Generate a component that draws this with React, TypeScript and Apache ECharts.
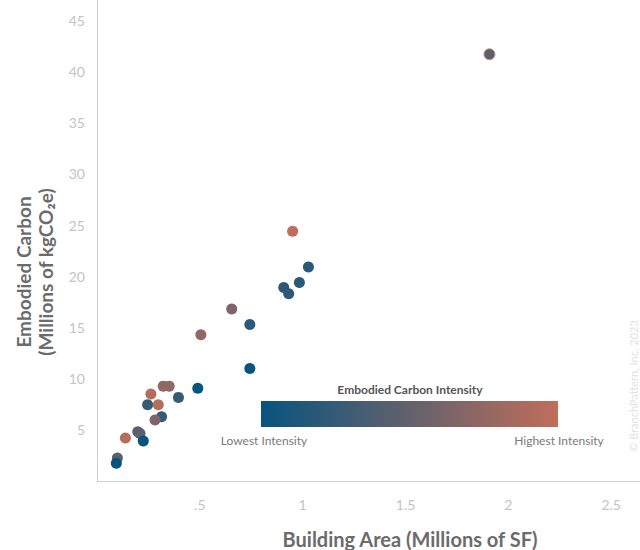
import React, { useEffect, useRef } from "react";
import * as echarts from "echarts";

const areas = [1.908, 0.951, 1.028, 0.984, 0.908, 0.932, 0.655, 0.743, 0.505, 0.743, 0.49, 0.322, 0.351, 0.262, 0.396, 0.246, 0.298, 0.314, 0.282, 0.198, 0.209, 0.138, 0.225, 0.099, 0.094];
const carbon = [41.7, 24.4, 20.9, 19.4, 18.9, 18.3, 16.8, 15.3, 14.3, 11.0, 9.07, 9.27, 9.27, 8.5, 8.17, 7.45, 7.45, 6.27, 5.95, 4.81, 4.65, 4.2, 3.9, 2.24, 1.73];
const intensity = [0.45, 1.0, 0.2, 0.2, 0.2, 0.2, 0.65, 0.2, 0.75, 0.0, 0.0, 0.75, 0.75, 0.95, 0.25, 0.25, 0.95, 0.25, 0.65, 0.45, 0.45, 0.95, 0.0, 0.45, 0.0];
const xTicks = [0, 0.5, 1, 1.5, 2, 2.5];
const xTickLabels = ["", ".5", "1", "1.5", "2", "2.5"];
const yTicks = [5, 10, 15, 20, 25, 30, 35, 40, 45];

const BLUE = "#07547F";
const ORANGE = "#C06E5A";
const FONT = "Lato, 'Noto Sans', sans-serif";

export default function App() {
  const ref = useRef<HTMLDivElement>(null);
  useEffect(() => {
    if (!ref.current) return;
    const chart = echarts.init(ref.current, null, { renderer: "svg" });
    const data = areas.map((a, i) => {
      const item: any = { value: [a, carbon[i], intensity[i]] };
      if (i === 0) item.itemStyle = { borderColor: "#C9957F", borderWidth: 1 };
      return item;
    });
    chart.setOption({
      animation: false,
      textStyle: { fontFamily: FONT },
      grid: {
        left: 97,
        right: 0,
        top: 0,
        bottom: 69,
        containLabel: false,
        outerBoundsMode: "none",
      },
      xAxis: {
        type: "value",
        min: 0,
        max: 2.64,
        interval: 0.5,
        offset: 3,
        axisLine: { show: true, lineStyle: { color: "#CFCFCF", width: 1 } },
        axisTick: { show: false },
        splitLine: { show: false },
        axisLabel: {
          color: "#C4C4C4",
          fontSize: 14,
          margin: 13,
          fontFamily: FONT,
          showMaxLabel: false,
          formatter: (v: number) => {
            const idx = xTicks.findIndex((t) => Math.abs(t - v) < 1e-6);
            return idx >= 0 ? xTickLabels[idx] : "";
          },
        },
      },
      yAxis: {
        type: "value",
        min: 0,
        max: 47,
        interval: 5,
        offset: 2,
        axisLine: { show: true, lineStyle: { color: "#CFCFCF", width: 1 } },
        axisTick: { show: false },
        splitLine: { show: false },
        axisLabel: {
          color: "#C4C4C4",
          fontSize: 14,
          margin: 10,
          fontFamily: FONT,
          showMaxLabel: false,
          formatter: (v: number) => (yTicks.includes(v) ? String(v) : ""),
        },
      },
      visualMap: {
        type: "continuous",
        show: false,
        dimension: 2,
        min: 0,
        max: 1,
        seriesIndex: 0,
        inRange: { color: [BLUE, ORANGE] },
      },
      series: [
        {
          type: "scatter",
          symbolSize: 11,
          data,
          itemStyle: { opacity: 1 },
        },
      ],
      graphic: [
        {
          type: "text",
          x: 34,
          y: 272,
          rotation: Math.PI / 2,
          style: {
            text: "Embodied Carbon\n(Millions of kgCO\u2082e)",
            fill: "#6B6B6B",
            font: `bold 19px ${FONT}`,
            align: "center",
            verticalAlign: "middle",
            lineHeight: 22,
          },
        },
        {
          type: "text",
          x: 410,
          y: 539,
          style: {
            text: "Building Area (Millions of SF)",
            fill: "#6B6B6B",
            font: `bold 20px ${FONT}`,
            align: "center",
            verticalAlign: "middle",
          },
        },
        {
          type: "text",
          x: 633,
          y: 386,
          rotation: Math.PI / 2,
          style: {
            text: "\u00A9 BranchPattern, Inc. 2023",
            fill: "#E2E2E2",
            font: `11px ${FONT}`,
            align: "center",
            verticalAlign: "middle",
          },
        },
        {
          type: "text",
          x: 410,
          y: 389,
          style: {
            text: "Embodied Carbon Intensity",
            fill: "#555555",
            font: `bold 12px ${FONT}`,
            align: "center",
            verticalAlign: "middle",
          },
        },
        {
          type: "rect",
          shape: { x: 261, y: 401, width: 297, height: 26 },
          style: {
            fill: new echarts.graphic.LinearGradient(0, 0, 1, 0, [
              { offset: 0, color: BLUE },
              { offset: 1, color: ORANGE },
            ]),
          },
        },
        {
          type: "text",
          x: 264,
          y: 440,
          style: {
            text: "Lowest Intensity",
            fill: "#7A7A7A",
            font: `12px ${FONT}`,
            align: "center",
            verticalAlign: "middle",
          },
        },
        {
          type: "text",
          x: 559,
          y: 440,
          style: {
            text: "Highest Intensity",
            fill: "#7A7A7A",
            font: `12px ${FONT}`,
            align: "center",
            verticalAlign: "middle",
          },
        },
      ],
    });
    return () => chart.dispose();
  }, []);
  return (
    <div
      ref={ref}
      style={{ position: "absolute", left: 0, top: 0, width: 640, height: 550 }}
    />
  );
}
